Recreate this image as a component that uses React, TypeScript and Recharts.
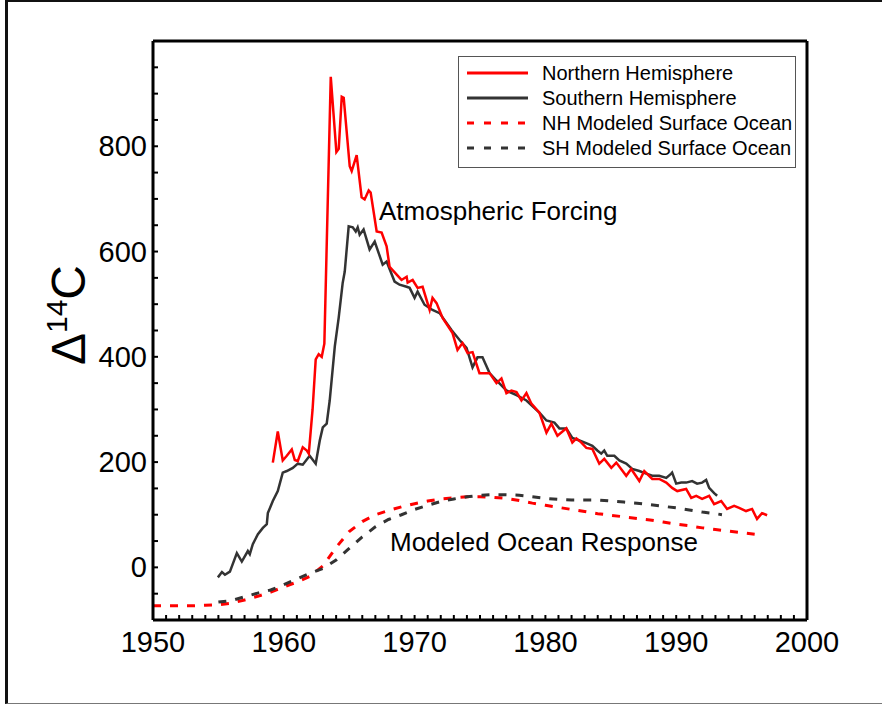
import React from "react";
import { LineChart, Line, XAxis, YAxis, ReferenceLine, Legend } from "recharts";

// Northern Hemisphere atmospheric Δ14C
const nhYears = [
  1959.16, 1959.54, 1959.92, 1960.23, 1960.61, 1960.84, 1961.07, 1961.45, 1961.76, 1961.91,
  1962.2, 1962.44, 1962.67, 1962.9, 1963.1, 1963.59, 1964.02, 1964.2, 1964.43, 1964.58,
  1965.04, 1965.19, 1965.57, 1965.95, 1966.18, 1966.49, 1966.64, 1967.1, 1967.48, 1967.86,
  1968.09, 1968.63, 1969.0, 1969.39, 1969.47, 1969.85, 1970.23, 1970.61, 1971.15, 1971.37,
  1971.68, 1972.14, 1972.9, 1973.28, 1973.66, 1974.05, 1974.43, 1974.96, 1975.73, 1976.26,
  1976.64, 1977.02, 1977.4, 1977.79, 1978.17, 1978.55, 1978.93, 1979.54, 1980.08, 1980.46,
  1980.92, 1981.6, 1982.06, 1982.37, 1982.75, 1983.13, 1983.59, 1984.12, 1984.5, 1985.04,
  1985.42, 1986.18, 1986.56, 1987.18, 1987.56, 1988.17, 1988.7, 1989.24, 1989.69, 1990.08,
  1990.76, 1991.15, 1991.53, 1991.98, 1992.52, 1992.9, 1993.44, 1993.89, 1994.43, 1994.81,
  1995.34, 1995.8, 1996.18, 1996.56, 1996.95,
];
const nhValues = [
  199, 258, 203, 212, 224, 204, 202, 228, 222, 216,
  300, 395, 405, 400, 425, 932, 789, 795, 894, 892,
  762, 753, 783, 703, 699, 716, 712, 638, 636, 610,
  571, 556, 546, 552, 541, 546, 531, 533, 489, 512,
  502, 474, 445, 413, 426, 407, 409, 369, 369, 350,
  359, 331, 336, 333, 317, 331, 311, 294, 256, 273,
  250, 264, 237, 245, 237, 227, 225, 197, 206, 189,
  199, 174, 187, 164, 183, 168, 168, 161, 151, 145,
  149, 132, 136, 130, 136, 120, 126, 111, 117, 113,
  107, 111, 92, 103, 99,
];

// Southern Hemisphere atmospheric Δ14C
const shYears = [
  1954.96, 1955.27, 1955.5, 1955.88, 1956.41, 1956.79, 1957.25, 1957.4, 1957.63, 1958.02,
  1958.4, 1958.7, 1958.78, 1959.16, 1959.54, 1959.92, 1960.23, 1960.69, 1961.07, 1961.45,
  1961.98, 1962.44, 1962.75, 1962.98, 1963.28, 1963.51, 1963.9, 1964.2, 1964.5, 1964.66,
  1964.96, 1965.27, 1965.5, 1965.65, 1965.8, 1966.1, 1966.56, 1966.95, 1967.56, 1967.86,
  1968.47, 1968.85, 1969.39, 1969.62, 1970.0, 1970.23, 1970.76, 1971.37, 1971.91, 1972.82,
  1973.44, 1973.97, 1974.43, 1974.81, 1975.19, 1975.73, 1976.26, 1977.02, 1977.79, 1978.55,
  1979.54, 1980.08, 1980.69, 1981.07, 1981.6, 1982.06, 1982.6, 1983.21, 1983.59, 1983.97,
  1984.27, 1984.5, 1984.73, 1985.27, 1985.65, 1986.18, 1986.64, 1987.18, 1987.71, 1988.17,
  1988.7, 1989.24, 1989.62, 1989.69, 1990.0, 1990.38, 1990.76, 1991.22, 1991.6, 1991.98,
  1992.29, 1992.52, 1992.9, 1993.13,
];
const shValues = [
  -19, -9, -14, -8, 27, 11, 31, 25, 44, 63,
  75, 82, 103, 126, 145, 180, 183, 189, 197, 195,
  212, 197, 241, 266, 273, 317, 420, 475, 540, 562,
  648, 646, 638, 646, 632, 642, 604, 619, 575, 581,
  543, 537, 533, 531, 512, 524, 499, 489, 483, 451,
  432, 417, 380, 399, 399, 369, 355, 336, 327, 317,
  294, 279, 275, 264, 264, 246, 241, 235, 231, 222,
  216, 222, 212, 212, 203, 197, 187, 183, 178, 174,
  174, 170, 178, 180, 159, 161, 161, 164, 159, 161,
  166, 151, 141, 136,
];

// NH modeled surface ocean
const nhOceanYears = [
  1950, 1951, 1952, 1953, 1954, 1955, 1956, 1957, 1958, 1959, 1960, 1961, 1962, 1963, 1964,
  1965, 1966, 1967, 1968, 1969, 1970, 1971, 1972, 1973, 1974, 1975, 1976, 1977, 1978, 1979,
  1980, 1981, 1982, 1983, 1984, 1985, 1986, 1987, 1988, 1989, 1990, 1991, 1992, 1993, 1994,
  1995, 1996,
];
const nhOceanValues = [
  -73, -73, -73, -73, -72, -71, -68, -62, -55, -47, -37, -28, -17, 3, 38,
  68, 87, 100, 108, 115, 121, 126, 130, 132, 134, 134, 133, 131, 127, 122,
  118, 114, 110, 106, 102, 99, 96, 93, 90, 86, 82, 79, 75, 72, 69,
  66, 63,
];

// SH modeled surface ocean
const shOceanYears = [
  1955, 1956, 1957, 1958, 1959, 1960, 1961, 1962, 1963, 1964, 1965, 1966, 1967, 1968, 1969,
  1970, 1971, 1972, 1973, 1974, 1975, 1976, 1977, 1978, 1979, 1980, 1981, 1982, 1983, 1984,
  1985, 1986, 1987, 1988, 1989, 1990, 1991, 1992, 1993, 1993.5,
];
const shOceanValues = [
  -66, -63, -56, -49, -43, -33, -22, -11, -2, 14, 36, 58, 77, 91, 100,
  110, 118, 125, 130, 134, 137, 138, 138, 137, 134, 131, 129, 128, 128, 128,
  126, 124, 122, 119, 116, 113, 109, 105, 102, 100,
];

const xTicks = Array.from({ length: 51 }, (_, i) => 1950 + i);
const yTicks = Array.from({ length: 23 }, (_, i) => -100 + i * 50);
const xLabelTicks = [1950, 1960, 1970, 1980, 1990, 2000];
const yLabelTicks = [0, 200, 400, 600, 800];

const legendItems = [
  { name: "Northern Hemisphere", color: "#ff0000", dashed: false },
  { name: "Southern Hemisphere", color: "#333333", dashed: false },
  { name: "NH Modeled Surface Ocean", color: "#ff0000", dashed: true },
  { name: "SH Modeled Surface Ocean", color: "#333333", dashed: true },
];

const zip = (xs: number[], ys: number[]) => xs.map((x, i) => ({ year: x, value: ys[i] }));
const nhData = zip(nhYears, nhValues);
const shData = zip(shYears, shValues);
const nhOceanData = zip(nhOceanYears, nhOceanValues);
const shOceanData = zip(shOceanYears, shOceanValues);

const FONT = "'Liberation Sans', Arial, Helvetica, sans-serif";

const XTick = (props: any) => {
  const { x, y, payload } = props;
  const v = payload.value;
  return (
    <g>
      <line x1={x} x2={x} y1={y} y2={y - 5} stroke="#000" strokeWidth={2} />
      {xLabelTicks.includes(v) && (
        <text x={x} y={y + 32} textAnchor="middle" fontSize={29} fontFamily={FONT} fill="#000">
          {v}
        </text>
      )}
    </g>
  );
};

const YTick = (props: any) => {
  const { x, y, payload } = props;
  const v = payload.value;
  return (
    <g>
      <line x1={x} x2={x + 5} y1={y} y2={y} stroke="#000" strokeWidth={2} />
      {yLabelTicks.includes(v) && (
        <text x={x - 6} y={y + 10} textAnchor="end" fontSize={29} fontFamily={FONT} fill="#000">
          {v}
        </text>
      )}
    </g>
  );
};

const LegendContent = () => (
  <div
    style={{
      width: 338,
      height: 112,
      boxSizing: "border-box",
      border: "1.5px solid #555",
      background: "#fff",
    }}
  >
    <svg width={336} height={110}>
      {legendItems.map((it, i) => {
        const cy = 16 + i * 25;
        return (
          <g key={it.name}>
            <line
              x1={8}
              x2={69}
              y1={cy}
              y2={cy}
              stroke={it.color}
              strokeWidth={3}
              strokeDasharray={it.dashed ? "7 10" : undefined}
            />
            <text x={83} y={cy + 7} fontSize={20} fontFamily={FONT} fill="#000">
              {it.name}
            </text>
          </g>
        );
      })}
    </svg>
  </div>
);

export default function App() {
  return (
    <div style={{ position: "absolute", left: 0, top: 0, width: 882, height: 704, background: "#fff" }}>
      <div
        style={{
          position: "absolute",
          left: 5,
          top: 0,
          width: 880,
          height: 701,
          borderLeft: "3px solid #111",
          borderTop: "2px solid #111",
          borderBottom: "1.5px solid #777",
        }}
      />
      <div style={{ position: "absolute", left: 0, top: 0 }}>
        <LineChart width={882} height={704} margin={{ top: 41, right: 75, bottom: 0, left: 0 }}>
          <XAxis
            type="number"
            dataKey="year"
            domain={[1950, 2000]}
            ticks={xTicks}
            interval={0}
            height={84}
            tickSize={0}
            tickMargin={0}
            tick={<XTick />}
            axisLine={{ stroke: "#000", strokeWidth: 3 }}
            tickLine={false}
            allowDataOverflow
          />
          <YAxis
            type="number"
            dataKey="value"
            domain={[-100, 1000]}
            ticks={yTicks}
            interval={0}
            width={153}
            tickSize={0}
            tickMargin={0}
            tick={<YTick />}
            axisLine={{ stroke: "#000", strokeWidth: 3 }}
            tickLine={false}
            allowDataOverflow
          />
          <ReferenceLine y={1000} stroke="#000" strokeWidth={3} />
          <ReferenceLine x={2000} stroke="#000" strokeWidth={3} />
          <Line
            data={nhOceanData}
            dataKey="value"
            name="NH Modeled Surface Ocean"
            stroke="#ff0000"
            strokeWidth={3}
            strokeDasharray="8 9"
            dot={false}
            type="linear"
            isAnimationActive={false}
          />
          <Line
            data={shOceanData}
            dataKey="value"
            name="SH Modeled Surface Ocean"
            stroke="#333333"
            strokeWidth={3}
            strokeDasharray="8 9"
            dot={false}
            type="linear"
            isAnimationActive={false}
          />
          <Line
            data={shData}
            dataKey="value"
            name="Southern Hemisphere"
            stroke="#333333"
            strokeWidth={2.5}
            dot={false}
            type="linear"
            isAnimationActive={false}
          />
          <Line
            data={nhData}
            dataKey="value"
            name="Northern Hemisphere"
            stroke="#ff0000"
            strokeWidth={2.5}
            dot={false}
            type="linear"
            isAnimationActive={false}
          />
          <Legend
            layout="vertical"
            align="center"
            verticalAlign="middle"
            content={<LegendContent />}
            wrapperStyle={{ position: "absolute", left: 458, top: 56, width: 338, height: 112 }}
          />
        </LineChart>
      </div>
      <svg
        width={882}
        height={704}
        style={{ position: "absolute", left: 0, top: 0, pointerEvents: "none" }}
      >
        <text transform="translate(85,315) rotate(-90)" textAnchor="middle" fontFamily={FONT} fill="#000">
          <tspan fontSize={48}>Δ</tspan>
          <tspan fontSize={30} dy={-18}>14</tspan>
          <tspan fontSize={48} dy={18}>C</tspan>
        </text>
        <text x={379} y={220} fontSize={26} fontFamily={FONT} fill="#000">
          Atmospheric Forcing
        </text>
        <text x={390} y={551} fontSize={26} fontFamily={FONT} fill="#000">
          Modeled Ocean Response
        </text>
      </svg>
    </div>
  );
}
